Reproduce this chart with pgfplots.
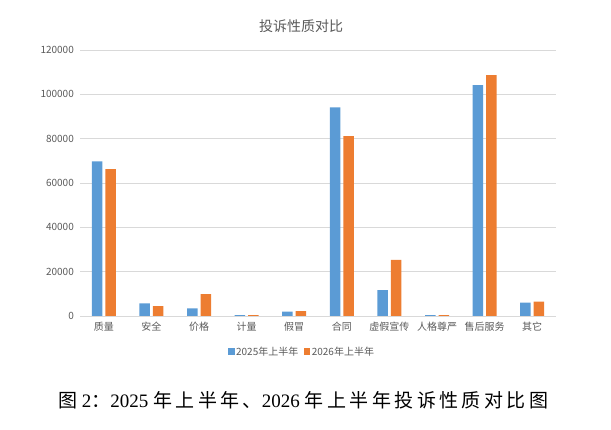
\documentclass[border=0pt]{standalone}
\usepackage{fontspec}
\usepackage{pgfplots}
\pgfplotsset{compat=1.18}
\setmainfont{Noto Sans CJK SC}
\newfontfamily\capcjk[LetterSpace=18]{Noto Sans CJK SC}
\newfontfamily\capnum{Liberation Serif}
\definecolor{b1}{HTML}{5B9BD5}
\definecolor{o1}{HTML}{ED7D31}
\definecolor{gridc}{HTML}{D9D9D9}
\definecolor{txt}{HTML}{595959}
\begin{document}
\begin{tikzpicture}
\path[use as bounding box] (0,0) rectangle (611bp,430bp);
\begin{axis}[
  at={(80bp,114bp)}, anchor=south west,
  scale only axis, width=476bp, height=266bp,
  ybar=3bp, bar width=10.5bp,
  xmin=-0.5, xmax=9.5, ymin=0, ymax=120000,
  xtick={0,1,2,3,4,5,6,7,8,9},
  xticklabels={质量,安全,价格,计量,假冒,合同,虚假宣传,人格尊严,售后服务,其它},
  ytick={0,20000,40000,60000,80000,100000,120000},
  scaled y ticks=false,
  /pgf/number format/assume math mode=true,
  yticklabel style={/pgf/number format/fixed, /pgf/number format/1000 sep={}, anchor=east, inner sep=0pt, xshift=-6bp},
  xticklabel style={anchor=north, inner sep=0pt, yshift=-6bp},
  tick label style={font=\fontsize{10bp}{12bp}\selectfont, text=txt},
  major tick length=0pt,
  axis line style={draw=none},
  ymajorgrids, grid style={draw=gridc, line width=0.8bp},
  legend style={at={(0.466,-0.135)}, anchor=center, draw=none, fill=none,
    legend columns=2, font=\fontsize{10bp}{12bp}\selectfont, text=txt,
    /tikz/every even column/.append style={column sep=4bp},
    inner sep=0pt, nodes={inner sep=1.5bp}},
  legend image code/.code={\fill[#1] (0bp,-3bp) rectangle (6.5bp,3.5bp);},
]
\addplot[fill=b1, draw=none] coordinates {(0,69700) (1,5700) (2,3450) (3,450) (4,1950) (5,94100) (6,11700) (7,400) (8,104200) (9,6000)};
\addplot[fill=o1, draw=none] coordinates {(0,66300) (1,4500) (2,9900) (3,450) (4,2250) (5,81200) (6,25300) (7,400) (8,108700) (9,6450)};
\legend{2025年上半年,2026年上半年}
\end{axis}
\node[text=txt, font=\fontsize{14bp}{16bp}\selectfont] at (301bp,404bp) {投诉性质对比};
\node[text=black, font=\fontsize{19bp}{22bp}\selectfont, inner sep=0pt] at (303.5bp,30bp)
  {{\capcjk 图}\hspace{4bp}{\capnum 2}{\capcjk ：}{\capnum 2025}\hspace{5bp}{\capcjk 年上半年、}{\capnum 2026}\hspace{5bp}{\capcjk 年上半年投诉性质对比图}};
\end{tikzpicture}
\end{document}
